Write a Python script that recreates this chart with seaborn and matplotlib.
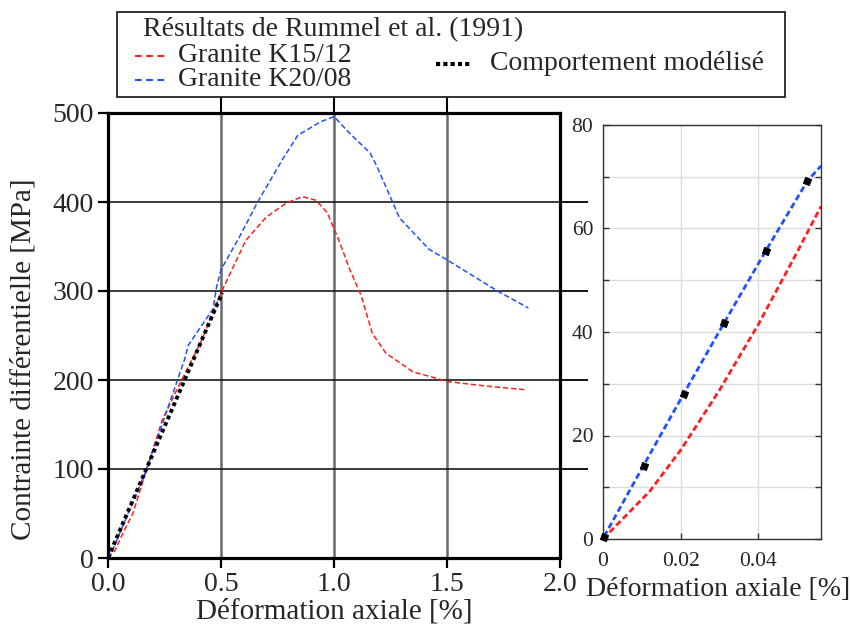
import numpy as np
import pandas as pd
import matplotlib
matplotlib.use("Agg")
import matplotlib.pyplot as plt
from matplotlib.lines import Line2D
from matplotlib.patches import Rectangle
from matplotlib.ticker import MultipleLocator
import seaborn as sns

# ---------------- data ----------------
# main plot: Granite K15/12 (red)
k15_x = [0.0, 0.03, 0.066, 0.11, 0.17, 0.24, 0.31, 0.41, 0.50, 0.61, 0.70, 0.79,
         0.86, 0.92, 0.97, 1.02, 1.07, 1.12, 1.17, 1.23, 1.35, 1.51, 1.68, 1.85]
k15_y = [0, 8, 28, 50, 99, 155, 192, 242, 298, 357, 383, 399,
         406, 402, 388, 358, 324, 295, 252, 230, 209, 198, 193, 189]
# main plot: Granite K20/08 (blue)
k20_x = [0.0, 0.02, 0.10, 0.17, 0.26, 0.34, 0.355, 0.465, 0.48, 0.50, 0.58, 0.66,
         0.77, 0.84, 0.94, 1.00, 1.07, 1.16, 1.19, 1.29, 1.42, 1.50, 1.73, 1.86]
k20_y = [0, 9, 57, 99, 165, 224, 239, 280, 304, 324, 360, 399,
         447, 475, 490, 496, 477, 455, 440, 382, 347, 335, 299, 281]
# main plot: modelled behaviour (black dotted)
mod_x = [0.0, 0.505]
mod_y = [0, 298]

# inset
ins_red_x = [0.0, 0.006, 0.012, 0.02, 0.03, 0.04, 0.05, 0.0561]
ins_red_y = [0.0, 4.6, 9.2, 17.2, 28.8, 41.5, 55.5, 64.3]
ins_blue_x = [0.0003, 0.0105, 0.0208, 0.0312, 0.0419, 0.0526, 0.0561]
ins_blue_y = [0.5, 14.3, 28.1, 41.8, 55.7, 69.2, 72.1]
ins_mod_x = [0.0003, 0.0105, 0.0208, 0.0312, 0.0419, 0.0526]
ins_mod_y = [0.45, 14.2, 28.0, 41.8, 55.7, 69.2]

main_xticks = [0.0, 0.5, 1.0, 1.5, 2.0]
main_xticklabels = ["0.0", "0.5", "1.0", "1.5", "2.0"]
main_yticks = [0, 100, 200, 300, 400, 500]

RED = "#ff1f1f"
BLUE = "#2050ff"

sns.set_theme(style="white")
plt.rcParams["font.family"] = ["Liberation Serif", "DejaVu Serif"]

W, H = 850, 626
fig = plt.figure(figsize=(8.5, 6.26), dpi=100)
fig.patch.set_facecolor("white")


def fx(x):
    return x / W


def fy(y):
    return 1 - y / H


# ---------------- main axes ----------------
ax = fig.add_axes([fx(108), fy(558), (560 - 108) / W, (558 - 113) / H])
ax.set_facecolor("white")

df15 = pd.DataFrame({"x": k15_x, "y": k15_y})
df20 = pd.DataFrame({"x": k20_x, "y": k20_y})
dfm = pd.DataFrame({"x": mod_x, "y": mod_y})

sns.lineplot(data=df15, x="x", y="y", ax=ax, estimator=None, sort=False,
             color=RED, lw=1.1, linestyle=(0, (3.5, 1.8)), zorder=4)
sns.lineplot(data=df20, x="x", y="y", ax=ax, estimator=None, sort=False,
             color=BLUE, lw=1.1, linestyle=(0, (3.5, 1.8)), zorder=4)
sns.lineplot(data=dfm, x="x", y="y", ax=ax, estimator=None, sort=False,
             color="black", lw=2.8, linestyle=(0, (1, 0.85)), zorder=5)

ax.set_xlim(0, 2.0)
ax.set_ylim(0, 500)
ax.set_xticks(main_xticks)
ax.set_xticklabels(main_xticklabels)
ax.set_yticks(main_yticks)
ax.xaxis.grid(True, color="#6a6a6a", lw=1.8)
ax.yaxis.grid(True, color="#1a1a1a", lw=1.2)
ax.set_axisbelow(True)
for s in ax.spines.values():
    s.set_visible(True)
    s.set_color("black")
    s.set_linewidth(2.3)
ax.tick_params(axis="both", which="major", direction="out", length=7, width=1.6,
               color="black", labelsize=20, pad=3, left=True, bottom=True)
ax.set_xlabel("Déformation axiale [%]", fontsize=21, labelpad=1)
ax.set_ylabel("Contrainte différentielle [MPa]", fontsize=21, va="center")
ax.yaxis.set_label_coords((24 - 108) / 452, 0.447)

sec_r = ax.secondary_yaxis("right")
sec_r.set_yticks([100, 200, 300, 400])
sec_r.tick_params(direction="out", length=20, width=1.3, labelright=False, color="black")
sec_r.spines["right"].set_visible(False)
sec_t = ax.secondary_xaxis("top")
sec_t.set_xticks([0.5, 1.0, 1.5])
sec_t.tick_params(direction="out", length=15, width=1.5, labeltop=False, color="black")
sec_t.spines["top"].set_visible(False)

# ---------------- inset axes ----------------
ax2 = fig.add_axes([fx(603), fy(539), (821 - 603) / W, (539 - 125) / H])
ax2.set_facecolor("white")
dfr = pd.DataFrame({"x": ins_red_x, "y": ins_red_y})
dfb = pd.DataFrame({"x": ins_blue_x, "y": ins_blue_y})
dfim = pd.DataFrame({"x": ins_mod_x, "y": ins_mod_y})
sns.lineplot(data=dfr, x="x", y="y", ax=ax2, estimator=None, sort=False,
             color=RED, lw=2.0, linestyle=(0, (2.2, 1.2)), zorder=4)
sns.lineplot(data=dfb, x="x", y="y", ax=ax2, estimator=None, sort=False,
             color=BLUE, lw=2.0, linestyle=(0, (2.2, 1.2)), zorder=4)
sns.scatterplot(data=dfim, x="x", y="y", ax=ax2, marker=(4, 0, 25), s=45,
                color="black", edgecolor="black", linewidth=0.5, zorder=5,
                clip_on=False)
ax2.set_xlim(0, 0.0561)
ax2.set_ylim(0, 80)
ax2.set_xticks([0, 0.02, 0.04])
ax2.set_xticklabels(["0", "0.02", "0.04"])
ax2.set_yticks([0, 20, 40, 60, 80])
ax2.yaxis.set_minor_locator(MultipleLocator(10))
ax2.grid(True, which="both", color="#dcdcdc", lw=1.0)
ax2.set_axisbelow(True)
for s in ax2.spines.values():
    s.set_visible(True)
    s.set_color("#333333")
    s.set_linewidth(1.0)
ax2.tick_params(axis="both", which="both", direction="in", length=4, width=1,
                color="#333333", labelsize=15.5, left=True, right=True,
                bottom=True, top=False)
ax2.tick_params(axis="x", pad=9)
ax2.tick_params(axis="y", pad=7)
ax2.set_xlabel("Déformation axiale [%]", fontsize=20, va="center")
ax2.xaxis.set_label_coords((718 - 603) / 218, -(589 - 539) / 414)
ax2.set_ylabel("")

# ---------------- legend (figure-level box) ----------------
LFS = 20
fig.add_artist(Rectangle((fx(117), fy(97)), (785 - 117) / W, (97 - 12) / H,
                         transform=fig.transFigure, fill=True, facecolor="white",
                         edgecolor="#222222", lw=1.3, zorder=10))
fig.text(fx(143), fy(30), "Résultats de Rummel et al. (1991)", fontsize=LFS,
         ha="left", va="center", zorder=11)
fig.add_artist(Line2D([fx(135), fx(167)], [fy(56), fy(56)], transform=fig.transFigure,
                      color=RED, lw=1.5, linestyle=(0, (3.2, 2.2)), zorder=11))
fig.text(fx(178), fy(56), "Granite K15/12", fontsize=LFS, ha="left", va="center", zorder=11)
fig.add_artist(Line2D([fx(135), fx(167)], [fy(80), fy(80)], transform=fig.transFigure,
                      color=BLUE, lw=1.5, linestyle=(0, (3.2, 2.2)), zorder=11))
fig.text(fx(178), fy(80), "Granite K20/08", fontsize=LFS, ha="left", va="center", zorder=11)
fig.add_artist(Line2D([fx(436), fx(470)], [fy(64), fy(64)], transform=fig.transFigure,
                      color="black", lw=3.0, linestyle=(0, (1, 0.75)), zorder=11))
fig.text(fx(490), fy(63), "Comportement modélisé", fontsize=LFS, ha="left", va="center",
         zorder=11)

fig.savefig("out.png", dpi=100, facecolor="white")
